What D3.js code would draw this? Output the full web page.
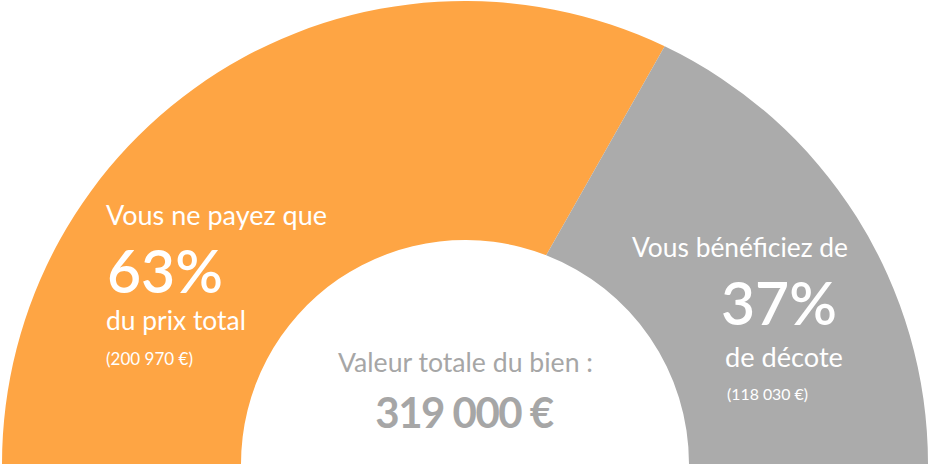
<!DOCTYPE html>
<html>
<head>
<meta charset="utf-8">
<script src="https://cdn.jsdelivr.net/npm/d3@7"></script>
<style>
  html, body { margin: 0; padding: 0; background: #ffffff; }
  svg { display: block; }
  text { font-family: Lato, "Open Sans", sans-serif; }
</style>
</head>
<body>
<svg id="chart" width="929" height="464"></svg>
<script>
// ---- data ----
const categories = ["Vous ne payez que", "Vous bénéficiez de"];
const shares = [63, 37];
const amounts = [200970, 118030];
const captions = ["du prix total", "de décote"];
const totalLabel = "Valeur totale du bien :";
const totalValue = 319000;

// ---- styles / layout ----
const colors = ["#FEA544", "#ABABAB"];
const cx = 465, cy = 464, rOuter = 463, rInner = 224;
const twist = 2.15 * Math.PI / 180; // boundary slant seen in the original

const fr = d3.formatLocale({decimal: ",", thousands: "\u00a0", grouping: [3], currency: ["", "\u00a0€"]});
const fmtMoney = fr.format("$,.0f");

const svg = d3.select("#chart");
const g = svg.append("g").attr("transform", `translate(${cx},${cy})`);

const pie = d3.pie().sort(null).value(d => d).startAngle(-Math.PI / 2).endAngle(Math.PI / 2);
const arcsData = pie(shares);
const first = -Math.PI / 2, last = Math.PI / 2;

function slicePath(d) {
  const a0 = d.startAngle, a1 = d.endAngle;
  const isFirst = Math.abs(a0 - first) < 1e-9, isLast = Math.abs(a1 - last) < 1e-9;
  const a0o = isFirst ? a0 : a0 + twist;
  const a0i = isFirst ? a0 : a0 - twist;
  const a1o = isLast ? a1 : a1 + twist;
  const a1i = isLast ? a1 : a1 - twist;
  const p = d3.path();
  const pt = (r, a) => [r * Math.sin(a), -r * Math.cos(a)];
  const s = pt(rOuter, a0o);
  p.moveTo(s[0], s[1]);
  p.arc(0, 0, rOuter, a0o - Math.PI / 2, a1o - Math.PI / 2, false);
  const e = pt(rInner, a1i);
  p.lineTo(e[0], e[1]);
  p.arc(0, 0, rInner, a1i - Math.PI / 2, a0i - Math.PI / 2, true);
  p.closePath();
  return p.toString();
}

g.selectAll("path.slice")
  .data(arcsData)
  .join("path")
  .attr("class", "slice")
  .attr("d", slicePath)
  .attr("fill", (d, i) => colors[i]);

// ---- labels: x, baseline y, target width, weight ----
const labelLayout = [
  [
    {x: 106, y: 225, w: 221, weight: 400},
    {x: 107, y: 293, w: 116, weight: 600},
    {x: 106, y: 330, w: 140, weight: 400},
    {x: 106, y: 365, w: 87, weight: 400}
  ],
  [
    {x: 632, y: 257, w: 216, weight: 400},
    {x: 721, y: 325, w: 116, weight: 600},
    {x: 725, y: 367, w: 118, weight: 400},
    {x: 727, y: 400, w: 81, weight: 400}
  ]
];

function fitText(sel, targetW, base) {
  sel.attr("font-size", base);
  const w = sel.node().getComputedTextLength();
  sel.attr("font-size", (base * targetW / w).toFixed(2));
}

arcsData.forEach((d, i) => {
  const texts = [categories[i], shares[i] + "%", captions[i], "(" + fmtMoney(amounts[i]) + ")"];
  labelLayout[i].forEach((l, j) => {
    const t = svg.append("text")
      .attr("x", l.x).attr("y", l.y)
      .attr("fill", "#ffffff")
      .attr("font-weight", l.weight)
      .text(texts[j]);
    fitText(t, l.w, 24);
  });
});

const t1 = svg.append("text")
  .attr("x", 465.5).attr("y", 372)
  .attr("text-anchor", "middle")
  .attr("fill", "#A6A6A6")
  .text(totalLabel);
fitText(t1, 255, 24);

svg.append("text")
  .attr("x", 464).attr("y", 428)
  .attr("text-anchor", "middle")
  .attr("fill", "#A6A6A6")
  .attr("font-size", 42)
  .attr("font-weight", 700)
  .attr("letter-spacing", -1.5)
  .text(fmtMoney(totalValue));
</script>
</body>
</html>
